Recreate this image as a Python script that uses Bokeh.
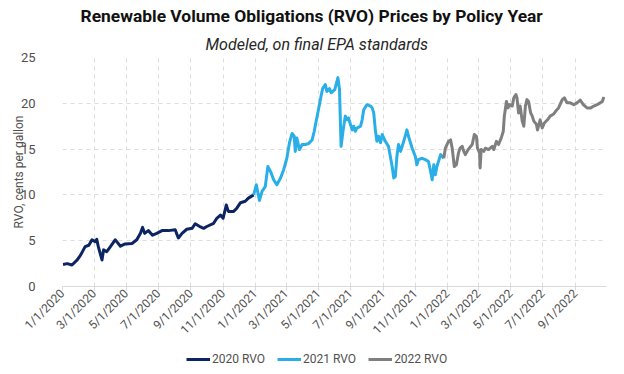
from datetime import datetime
from bokeh.plotting import figure
from bokeh.layouts import column
from bokeh.models import (ColumnDataSource, FixedTicker, CustomJSTickFormatter,
                          Legend, LegendItem, Title, Range1d)
from bokeh.embed import file_html
from bokeh.resources import INLINE
import math

# ---------------- data ----------------
dates_2020 = ["2020-01-02", "2020-01-10", "2020-01-19", "2020-01-29", "2020-02-04", "2020-02-13",
              "2020-02-20", "2020-02-26", "2020-03-03", "2020-03-06", "2020-03-09", "2020-03-16",
              "2020-03-19", "2020-03-25", "2020-04-01", "2020-04-10", "2020-04-13", "2020-04-20",
              "2020-04-29", "2020-05-12", "2020-05-21", "2020-05-28", "2020-06-01", "2020-06-05",
              "2020-06-12", "2020-06-20", "2020-06-28", "2020-07-08", "2020-07-20", "2020-08-02",
              "2020-08-08", "2020-08-15", "2020-08-24", "2020-09-03", "2020-09-09", "2020-09-19",
              "2020-09-25", "2020-10-01", "2020-10-14", "2020-10-20", "2020-10-27", "2020-11-01",
              "2020-11-07", "2020-11-11", "2020-11-21", "2020-11-27", "2020-12-04", "2020-12-13",
              "2020-12-19", "2020-12-29"]
rvo_2020 = [2.4, 2.5, 2.35, 2.9, 3.4, 4.35,
            4.5, 5.1, 4.9, 5.15, 4.35, 2.9,
            4.0, 3.8, 4.35, 5.1, 4.9, 4.4,
            4.65, 4.7, 5.1, 5.8, 6.45, 5.8,
            6.1, 5.6, 5.8, 6.1, 6.1, 6.2,
            5.3, 5.8, 6.25, 6.35, 6.85, 6.5,
            6.35, 6.55, 6.9, 7.45, 7.8, 7.45,
            8.9, 8.2, 8.2, 8.55, 9.15, 9.3,
            9.65, 10.0]

dates_2021 = ["2020-12-29", "2021-01-03", "2021-01-09", "2021-01-14", "2021-01-20", "2021-01-25",
              "2021-01-30", "2021-02-05", "2021-02-11", "2021-02-18", "2021-02-24", "2021-03-02",
              "2021-03-07", "2021-03-12", "2021-03-16", "2021-03-18", "2021-03-21", "2021-03-26",
              "2021-03-31", "2021-04-06", "2021-04-12", "2021-04-19", "2021-04-23", "2021-04-26",
              "2021-05-01", "2021-05-06", "2021-05-09", "2021-05-14", "2021-05-17", "2021-05-22",
              "2021-05-25", "2021-06-01", "2021-06-07", "2021-06-10", "2021-06-13", "2021-06-17",
              "2021-06-21", "2021-06-24", "2021-06-27", "2021-07-04", "2021-07-07", "2021-07-10",
              "2021-07-13", "2021-07-20", "2021-07-23", "2021-07-26", "2021-08-01", "2021-08-08",
              "2021-08-11", "2021-08-14", "2021-08-17", "2021-08-20", "2021-08-23", "2021-08-27",
              "2021-08-30", "2021-09-05", "2021-09-11", "2021-09-18", "2021-09-21", "2021-09-24",
              "2021-09-27", "2021-09-30", "2021-10-04", "2021-10-10", "2021-10-16", "2021-10-19",
              "2021-10-26", "2021-11-01", "2021-11-04", "2021-11-07", "2021-11-14", "2021-11-20",
              "2021-11-26", "2021-11-30", "2021-12-03", "2021-12-06", "2021-12-09", "2021-12-12",
              "2021-12-19", "2021-12-25"]
rvo_2021 = [10.0, 11.1, 9.4, 10.4, 10.9, 13.1,
            12.55, 11.65, 11.1, 11.85, 12.75, 14.0,
            15.7, 16.7, 16.4, 14.75, 16.2, 14.95,
            15.5, 15.5, 15.6, 16.0, 16.95, 17.85,
            19.3, 20.8, 21.6, 22.05, 21.3, 21.6,
            21.15, 21.5, 22.8, 21.5, 15.3, 17.1,
            18.6, 18.2, 18.4, 17.1, 17.5, 16.95,
            17.3, 17.5, 18.2, 19.3, 19.85, 19.7,
            19.5, 18.95, 17.1, 15.85, 16.4, 15.7,
            16.6, 15.85, 15.3, 13.1, 11.85, 12.0,
            14.2, 15.5, 14.75, 15.85, 17.1, 16.4,
            15.1, 14.2, 13.3, 13.85, 14.0, 13.85,
            13.65, 12.55, 11.65, 13.3, 12.2, 13.1,
            14.4, 14.0]

dates_2022 = ["2021-12-25", "2021-12-28", "2022-01-03", "2022-01-07", "2022-01-10", "2022-01-14",
              "2022-01-18", "2022-01-22", "2022-01-25", "2022-01-29", "2022-02-01", "2022-02-04",
              "2022-02-10", "2022-02-17", "2022-02-21", "2022-02-25", "2022-02-27", "2022-03-03",
              "2022-03-04", "2022-03-06", "2022-03-11", "2022-03-14", "2022-03-20", "2022-03-27",
              "2022-03-30", "2022-04-04", "2022-04-08", "2022-04-13", "2022-04-17", "2022-04-19",
              "2022-04-23", "2022-04-26", "2022-04-29", "2022-05-04", "2022-05-07", "2022-05-11",
              "2022-05-13", "2022-05-16", "2022-05-19", "2022-05-23", "2022-05-26", "2022-05-29",
              "2022-06-01", "2022-06-04", "2022-06-08", "2022-06-11", "2022-06-14", "2022-06-19",
              "2022-06-21", "2022-06-26", "2022-06-30", "2022-07-04", "2022-07-10", "2022-07-15",
              "2022-07-21", "2022-07-25", "2022-07-31", "2022-08-07", "2022-08-11", "2022-08-16",
              "2022-08-22", "2022-08-29", "2022-09-04", "2022-09-10", "2022-09-16", "2022-09-23",
              "2022-09-30", "2022-10-06", "2022-10-12", "2022-10-18", "2022-10-22", "2022-10-25"]
rvo_2022 = [14.0, 15.1, 15.85, 16.0, 15.1, 13.1,
            13.3, 14.6, 15.1, 15.3, 14.75, 14.4,
            15.0, 15.5, 16.6, 16.4, 15.1, 14.6,
            12.95, 14.95, 14.75, 15.1, 14.95, 15.3,
            14.95, 15.85, 15.5, 16.2, 16.95, 18.6,
            20.2, 19.5, 19.85, 19.7, 20.6, 20.95,
            20.6, 18.95, 19.7, 18.05, 17.5, 19.7,
            20.4, 20.2, 18.95, 18.6, 18.05, 17.7,
            17.1, 18.2, 17.3, 17.85, 18.2, 18.6,
            18.8, 19.1, 19.5, 20.4, 20.6, 20.05,
            20.05, 19.85, 20.05, 20.35, 19.85, 19.5,
            19.5, 19.7, 19.85, 20.05, 20.2, 20.7]

tick_dates = ["2020-01-01", "2020-03-01", "2020-05-01", "2020-07-01", "2020-09-01", "2020-11-01",
              "2021-01-01", "2021-03-01", "2021-05-01", "2021-07-01", "2021-09-01", "2021-11-01",
              "2022-01-01", "2022-03-01", "2022-05-01", "2022-07-01", "2022-09-01"]
y_ticks = [0, 5, 10, 15, 20, 25]
series_names = ["2020 RVO", "2021 RVO", "2022 RVO"]
series_colors = ["#0c2461", "#29aee8", "#7f7f7f"]

# ---------------- helpers ----------------
def to_dt(lst):
    return [datetime.strptime(s, "%Y-%m-%d") for s in lst]

def to_ms(s):
    d = datetime.strptime(s, "%Y-%m-%d")
    return (d - datetime(1970, 1, 1)).total_seconds() * 1000.0

FONT = "Roboto"
GRAY = "#505050"

p = figure(width=608, height=344, output_backend="svg", toolbar_location=None,
           x_axis_type="datetime",
           x_range=Range1d(to_ms("2020-01-01"), to_ms("2022-10-30")),
           y_range=Range1d(0, 25),
           min_border_left=62, min_border_right=2, min_border_top=6, min_border_bottom=40)
p.outline_line_color = None
p.background_fill_color = "white"
p.border_fill_color = "white"

sub = Title(text="Modeled, on final EPA standards", align="left", offset=143,
            text_font=FONT, text_font_style="italic", text_font_size="16px",
            text_color="#262626", standoff=8)
main = Title(text="Renewable Volume Obligations (RVO) Prices by Policy Year", align="left",
             offset=18, text_font=FONT, text_font_style="bold", text_font_size="17.4px",
             text_color="#111111", standoff=6)
p.add_layout(sub, "above")
p.add_layout(main, "above")

sources = []
renderers = []
for d, v, c in zip([dates_2020, dates_2021, dates_2022], [rvo_2020, rvo_2021, rvo_2022], series_colors):
    src = ColumnDataSource(dict(x=to_dt(d), y=v))
    sources.append(src)
    r = p.line("x", "y", source=src, line_color=c, line_width=3, line_join="round")
    renderers.append(r)

# axes
p.xaxis.ticker = FixedTicker(ticks=[to_ms(s) for s in tick_dates])
p.xaxis.formatter = CustomJSTickFormatter(code="""
    const d = new Date(tick);
    return (d.getUTCMonth()+1) + '/' + d.getUTCDate() + '/' + d.getUTCFullYear();
""")
p.xaxis.major_label_orientation = math.pi / 4
p.xaxis.major_label_text_font = FONT
p.xaxis.major_label_text_font_size = "12px"
p.xaxis.major_label_text_color = GRAY
p.xaxis.major_label_standoff = 1
p.xaxis.axis_line_color = "#d9d9d9"
p.xaxis.major_tick_line_color = "#d9d9d9"
p.xaxis.major_tick_out = 4
p.xaxis.major_tick_in = 0
p.xaxis.minor_tick_line_color = None

p.yaxis.ticker = FixedTicker(ticks=y_ticks)
p.yaxis.axis_line_color = None
p.yaxis.major_tick_line_color = None
p.yaxis.minor_tick_line_color = None
p.yaxis.major_label_text_font = FONT
p.yaxis.major_label_text_font_size = "13px"
p.yaxis.major_label_text_color = GRAY
p.yaxis.major_label_standoff = 21
p.yaxis.axis_label = "RVO, cents per gallon"
p.yaxis.axis_label_text_font = FONT
p.yaxis.axis_label_text_font_style = "normal"
p.yaxis.axis_label_text_font_size = "12px"
p.yaxis.axis_label_text_color = GRAY
p.yaxis.axis_label_standoff = -8

p.xgrid.grid_line_color = "#dcdcdc"
p.xgrid.grid_line_dash = "4 4"
p.ygrid.grid_line_color = "#dcdcdc"
p.ygrid.grid_line_dash = "4 4"

# ---------------- legend strip (same sources, ranges chosen so nothing is drawn) ----------------
lg = figure(width=608, height=24, output_backend="svg", toolbar_location=None,
            x_axis_location=None, y_axis_location=None,
            x_range=Range1d(0, 1), y_range=Range1d(-2, -1),
            min_border_left=0, min_border_right=0, min_border_top=0, min_border_bottom=0)
lg.outline_line_color = None
lg.xgrid.visible = False
lg.ygrid.visible = False
lg_renderers = []
for src, c in zip(sources, series_colors):
    lg_renderers.append(lg.line("x", "y", source=src, line_color=c, line_width=3))
legend = Legend(items=[LegendItem(label=n, renderers=[r]) for n, r in zip(series_names, lg_renderers)],
                orientation="horizontal", location=(124, 2),
                label_text_font=FONT, label_text_font_size="12px", label_text_color=GRAY,
                glyph_width=24, glyph_height=10, spacing=12, label_standoff=2,
                border_line_color=None, background_fill_alpha=0, margin=0, padding=2)
lg.add_layout(legend, "center")

layout = column(p, lg, spacing=0)
open("out.html", "w").write(file_html(layout, INLINE))
